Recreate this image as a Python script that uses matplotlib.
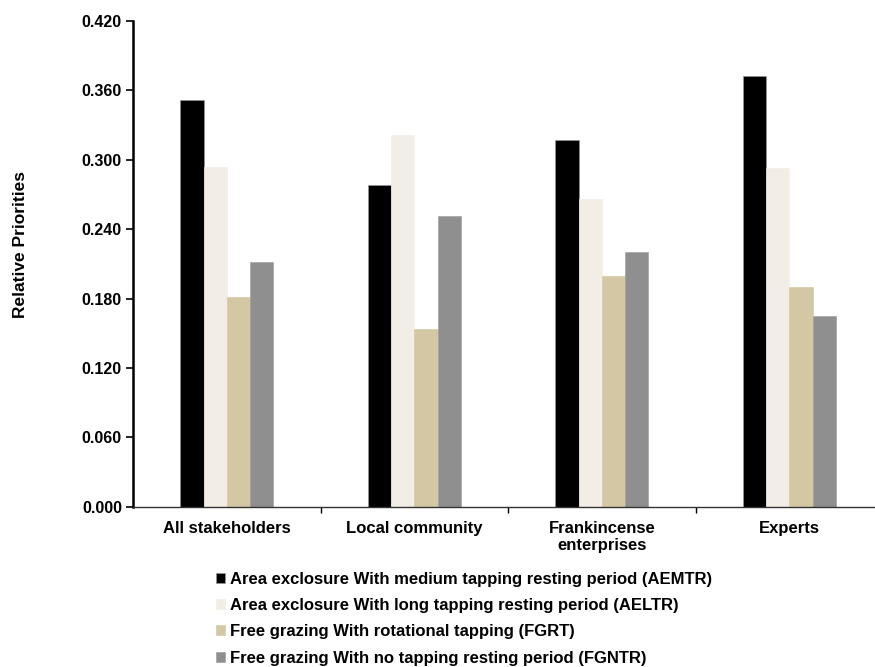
import numpy as np
import matplotlib.pyplot as plt

plt.rcParams['font.family'] = ['Liberation Sans', 'DejaVu Sans']
plt.rcParams['font.weight'] = 'bold'

# Данные
groups = ['All stakeholders', 'Local community', 'Frankincense\nenterprises', 'Experts']
series = ['Area exclosure With medium tapping resting period (AEMTR)',
          'Area exclosure With long tapping resting period (AELTR)',
          'Free grazing With rotational tapping (FGRT)',
          'Free grazing With no tapping resting period (FGNTR)']
aemtr = [0.352, 0.278, 0.317, 0.372]
aeltr = [0.294, 0.321, 0.266, 0.293]
fgrt = [0.181, 0.154, 0.200, 0.190]
fgntr = [0.212, 0.251, 0.220, 0.165]
colors = ['#000000', '#F2EEE6', '#D4C7A3', '#8F8F8F']
yticks = [0.0, 0.06, 0.12, 0.18, 0.24, 0.30, 0.36, 0.42]

fig = plt.figure(figsize=(8.75, 6.67), dpi=100)
ax = fig.add_axes([0.152, 0.240, 0.848, 0.7286])

x = np.arange(len(groups)) + 0.5
w = 0.124
values = [aemtr, aeltr, fgrt, fgntr]
for i, (vals, c, name) in enumerate(zip(values, colors, series)):
    ax.bar(x + (i - 1.5) * w, vals, w, color=c, label=name,
           edgecolor='#9a9a9a' if i in (0, 3) else c, linewidth=0.4)

ax.set_xlim(0, 3.957)
ax.set_ylim(0, 0.42)
ax.set_yticks(yticks)
ax.set_yticklabels(['%.3f' % t for t in yticks], fontsize=11.5, fontweight='bold')
ax.set_xticks(x)
ax.set_xticklabels(groups, fontsize=12, fontweight='bold', linespacing=1.15)
ax.tick_params(axis='x', length=0, pad=10)
ax.set_xticks([1, 2, 3], minor=True)
ax.tick_params(axis='x', which='minor', length=4, width=1, direction='out')
ax.tick_params(axis='y', length=5, width=1.2, direction='out', pad=3)

ax.spines['top'].set_visible(False)
ax.spines['right'].set_visible(False)
ax.spines['left'].set_linewidth(1.8)
ax.spines['bottom'].set_linewidth(1)
ax.spines['bottom'].set_color('#333333')

ax.set_ylabel('Relative Priorities', fontsize=12.5, fontweight='bold')
ax.yaxis.set_label_coords(-0.1415, 0.541)

fig.legend(loc='upper left', bbox_to_anchor=(0.247, 0.143), frameon=False,
           fontsize=12, handlelength=0.55, handleheight=0.55, handletextpad=0.3,
           labelspacing=0.68, borderaxespad=0, borderpad=0)

fig.savefig('out.png', dpi=100)
